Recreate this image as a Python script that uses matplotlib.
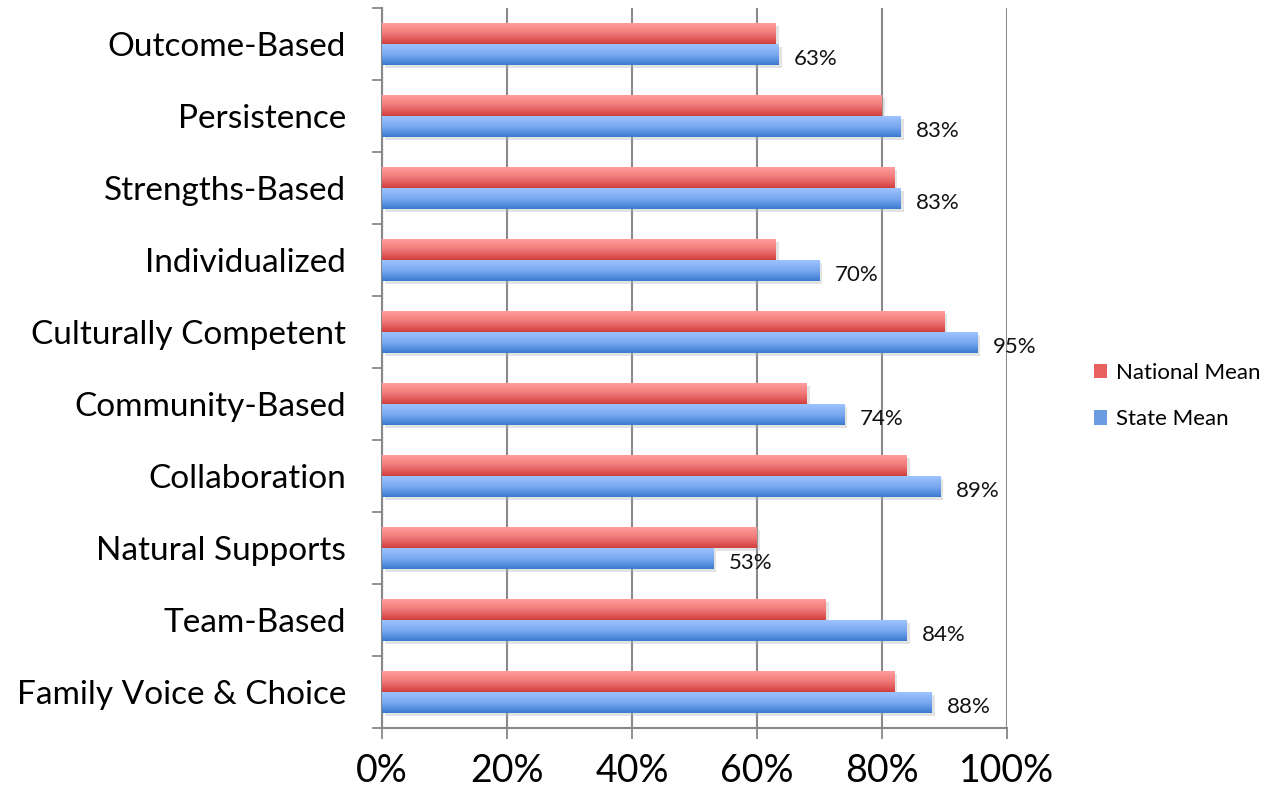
import numpy as np
import matplotlib
matplotlib.use("Agg")
import matplotlib.pyplot as plt
import matplotlib.patheffects as pe
from matplotlib.colors import LinearSegmentedColormap
from matplotlib.patches import Patch
from matplotlib.ticker import PercentFormatter

plt.rcParams['font.family'] = ['Lato', 'DejaVu Sans']

categories = ["Outcome-Based", "Persistence", "Strengths-Based", "Individualized",
              "Culturally Competent", "Community-Based", "Collaboration",
              "Natural Supports", "Team-Based", "Family Voice & Choice"]
national_mean = [0.63, 0.80, 0.82, 0.63, 0.90, 0.68, 0.84, 0.60, 0.71, 0.82]
state_mean = [0.635, 0.83, 0.83, 0.70, 0.953, 0.74, 0.893, 0.53, 0.84, 0.88]
state_labels = ["63%", "83%", "83%", "70%", "95%", "74%", "89%", "53%", "84%", "88%"]

red_cmap = LinearSegmentedColormap.from_list("red", ["#ff9d9d", "#f17878", "#d23f3f"])
blue_cmap = LinearSegmentedColormap.from_list("blue", ["#9dc3ff", "#78a8f0", "#3c7bd0"])

fig = plt.figure(figsize=(12.76, 7.92), dpi=100)
ax = fig.add_axes([382/1276, 64/792, 625/1276, 720/792])

y = np.arange(len(categories))
h = 0.29
shadow = [pe.SimplePatchShadow(offset=(2, -2), shadow_rgbFace="#b0b0b0", alpha=0.35), pe.Normal()]
red_bars = ax.barh(y - h/2, national_mean, height=h, color="#e86060", zorder=3)
blue_bars = ax.barh(y + h/2, state_mean, height=h, color="#6b9be0", zorder=3)

grad = np.linspace(0, 1, 64).reshape(-1, 1)
for bars, cmap in [(red_bars, red_cmap), (blue_bars, blue_cmap)]:
    for b in bars:
        b.set_path_effects(shadow)
        x0, y0 = b.get_x(), b.get_y()
        im = ax.imshow(grad, cmap=cmap, aspect="auto", zorder=4,
                       extent=[x0, x0 + b.get_width(), y0 + b.get_height(), y0],
                       origin="upper")
        im.set_clip_path(b)

for yi, v, lab in zip(y, state_mean, state_labels):
    ax.annotate(lab, (v, yi + h/2), xytext=(11, -3), textcoords="offset points",
                va="center", ha="left", fontsize=16, color="#111111", zorder=5)

ax.set_xlim(0, 1)
ax.set_ylim(len(categories) - 0.5, -0.5)
ax.set_xticks(np.arange(0, 1.01, 0.2))
ax.xaxis.set_major_formatter(PercentFormatter(1.0, decimals=0))
ax.set_yticks(y)
ax.set_yticklabels(categories, fontsize=24)
ax.set_yticks(np.arange(-0.5, len(categories), 1), minor=True)
ax.tick_params(axis="y", which="major", length=0, pad=26)
ax.tick_params(axis="y", which="minor", length=7, color="#888888", width=1.3)
ax.tick_params(axis="x", length=8, color="#888888", width=1.3, labelsize=27, pad=10)
ax.grid(axis="x", color="#8a8a8a", linewidth=1.5, zorder=0)
ax.set_axisbelow(True)
for s in ["top", "right"]:
    ax.spines[s].set_visible(False)
for s in ["left", "bottom"]:
    ax.spines[s].set_color("#888888")
    ax.spines[s].set_linewidth(1.5)

handles = [Patch(facecolor="#e86060", label="National Mean"),
           Patch(facecolor="#6b9be0", label="State Mean")]
fig.legend(handles=handles, loc="center left", bbox_to_anchor=(1078/1276, 1 - 396/792),
           frameon=False, fontsize=16, handlelength=0.6, handleheight=0.6,
           handletextpad=0.4, labelspacing=1.2, borderpad=0.2)

fig.savefig("out.png", dpi=100)
